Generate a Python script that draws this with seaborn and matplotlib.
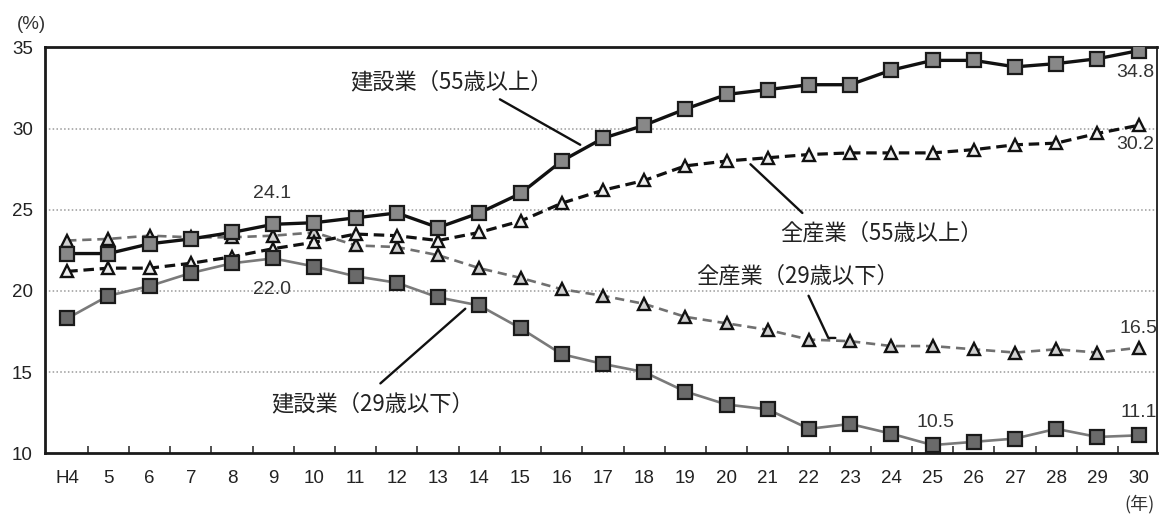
import matplotlib
matplotlib.use("Agg")
import matplotlib.pyplot as plt
from matplotlib import font_manager
import numpy as np
import pandas as pd
import seaborn as sns

# ---- data -------------------------------------------------------------
years = ["H4", "5", "6", "7", "8", "9", "10", "11", "12", "13", "14", "15",
         "16", "17", "18", "19", "20", "21", "22", "23", "24", "25", "26",
         "27", "28", "29", "30"]

const_55 = [22.3, 22.3, 22.9, 23.2, 23.6, 24.1, 24.2, 24.5, 24.8, 23.9, 24.8,
            26.0, 28.0, 29.4, 30.2, 31.2, 32.1, 32.4, 32.7, 32.7, 33.6, 34.2,
            34.2, 33.8, 34.0, 34.3, 34.8]
all_55 = [21.2, 21.4, 21.4, 21.7, 22.1, 22.6, 23.0, 23.5, 23.4, 23.1, 23.6,
          24.3, 25.4, 26.2, 26.8, 27.7, 28.0, 28.2, 28.4, 28.5, 28.5, 28.5,
          28.7, 29.0, 29.1, 29.7, 30.2]
all_29 = [23.1, 23.2, 23.4, 23.3, 23.3, 23.4, 23.6, 22.8, 22.7, 22.2, 21.4,
          20.8, 20.1, 19.7, 19.2, 18.4, 18.0, 17.6, 17.0, 16.9, 16.6, 16.6,
          16.4, 16.2, 16.4, 16.2, 16.5]
const_29 = [18.3, 19.7, 20.3, 21.1, 21.7, 22.0, 21.5, 20.9, 20.5, 19.6, 19.1,
            17.7, 16.1, 15.5, 15.0, 13.8, 13.0, 12.7, 11.5, 11.8, 11.2, 10.5,
            10.7, 10.9, 11.5, 11.0, 11.1]

y_ticks = [10, 15, 20, 25, 30, 35]

# ---- fonts ------------------------------------------------------------
sns.set_theme(style="white")
installed = {f.name for f in font_manager.fontManager.ttflist}
num_font = next((f for f in ["Liberation Sans Narrow", "Liberation Sans", "DejaVu Sans"]
                 if f in installed), "DejaVu Sans")
plt.rcParams["font.family"] = [num_font, "Noto Sans CJK JP", "DejaVu Sans"]
jp_font = ["Noto Sans CJK JP", "DejaVu Sans"]

df = pd.DataFrame({"pos": np.arange(len(years)), "const_55": const_55,
                   "all_55": all_55, "all_29": all_29, "const_29": const_29})

fig = plt.figure(figsize=(11.63, 5.15), dpi=100)
ax = fig.add_axes([0.039, 0.12, 0.956, 0.788])

# grid
for v in y_ticks[1:-1]:
    ax.axhline(v, color="#9a9a9a", lw=1.1, ls=(0, (1, 1.5)), zorder=0)

# all-industry series (dashed, triangles)
sns.lineplot(data=df, x="pos", y="all_29", ax=ax, color="#707070", lw=1.9,
             marker="^", markersize=8.5, markerfacecolor="#d0d0d0",
             markeredgecolor="#111111", markeredgewidth=1.7, zorder=3)
ax.lines[-1].set_dashes((3.5, 2.2))
sns.lineplot(data=df, x="pos", y="all_55", ax=ax, color="#111111", lw=2.3,
             marker="^", markersize=8.5, markerfacecolor="#eeeeee",
             markeredgecolor="#111111", markeredgewidth=1.7, zorder=4)
ax.lines[-1].set_dashes((3.3, 1.8))

# construction series (solid, squares)
sns.lineplot(data=df, x="pos", y="const_29", ax=ax, color="#7a7a7a", lw=1.9,
             marker="s", markersize=9.5, markerfacecolor="#6a6a6a",
             markeredgecolor="#1a1a1a", markeredgewidth=1.6, zorder=5)
sns.lineplot(data=df, x="pos", y="const_55", ax=ax, color="#111111", lw=2.4,
             marker="s", markersize=9.5, markerfacecolor="#888888",
             markeredgecolor="#1a1a1a", markeredgewidth=1.6, zorder=6)

# axes
ax.set_xlim(-0.53, 26.45)
ax.set_ylim(10, 35)
ax.set_xlabel("")
ax.set_ylabel("")
ax.set_yticks(y_ticks)
ax.set_yticklabels([str(v) for v in y_ticks])
ax.set_xticks(np.arange(len(years)))
ax.set_xticklabels(years)
ax.set_xticks(np.arange(len(years) - 1) + 0.5, minor=True)
ax.tick_params(axis="y", length=0, pad=9, labelsize=13.5, colors="#222222")
ax.tick_params(axis="x", which="major", length=0, pad=12, labelsize=13.5,
               colors="#222222")
ax.tick_params(axis="x", which="minor", direction="in", length=5, width=1.2,
               color="#333333", bottom=True)
for side, lw in [("left", 2.0), ("bottom", 2.0), ("top", 2.0), ("right", 1.3)]:
    ax.spines[side].set_visible(True)
    ax.spines[side].set_color("#1a1a1a")
    ax.spines[side].set_linewidth(lw)

# series labels with leader lines
lab_kw = dict(fontsize=16, family=jp_font, color="#222222", ha="center", va="center")
ax.text(9.32, 32.9, "建設業（55歳以上）", **lab_kw)
ax.plot([10.5, 12.45], [31.8, 29.0], color="#111111", lw=1.7, zorder=7)

ax.text(19.76, 23.56, "全産業（55歳以上）", **lab_kw)
ax.plot([16.58, 17.84], [27.8, 24.8], color="#111111", lw=1.7, zorder=7)

ax.text(17.72, 20.94, "全産業（29歳以下）", **lab_kw)
ax.plot([17.99, 18.47, 18.64], [19.7, 17.1, 17.1], color="#111111", lw=1.7,
        zorder=7)

ax.text(7.4, 13.07, "建設業（29歳以下）", **lab_kw)
ax.plot([7.6, 9.66], [14.3, 18.9], color="#111111", lw=1.7, zorder=7)

# value labels
val_kw = dict(fontsize=14, color="#333333", ha="center", va="center")
ax.text(4.98, 26.0, f"{const_55[5]:.1f}", **val_kw)
ax.text(4.98, 20.1, f"{const_29[5]:.1f}", **val_kw)
ax.text(25.92, 33.46, f"{const_55[-1]:.1f}", **val_kw)
ax.text(25.92, 29.0, f"{all_55[-1]:.1f}", **val_kw)
ax.text(26.0, 17.7, f"{all_29[-1]:.1f}", **val_kw)
ax.text(26.0, 12.5, f"{const_29[-1]:.1f}", **val_kw)
ax.text(21.07, 11.9, f"{const_29[21]:.1f}", **val_kw)

# unit labels
fig.text(0.027, 0.953, "(%)", fontsize=13.5, color="#333333", ha="center",
         va="center")
fig.text(0.980, 0.022, "(年)", fontsize=13, family=jp_font, color="#333333",
         ha="center", va="center")

fig.savefig("out.png", dpi=100)
